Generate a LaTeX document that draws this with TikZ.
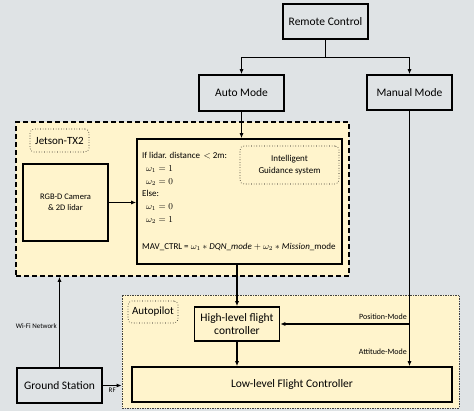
\documentclass[tikz,border=0pt]{standalone}
\usepackage{fontspec}
\setmainfont{Carlito}
\usetikzlibrary{arrows.meta}
\definecolor{bggray}{RGB}{223,227,229}
\definecolor{paleyel}{RGB}{255,244,204}
\tikzset{box/.style={draw, line width=1.6pt, inner sep=0pt, align=center, font=\fontsize{11.5}{13}\selectfont},
graybox/.style={box, fill=bggray},
yelbox/.style={box, fill=paleyel},
tag/.style={draw, dotted, line width=0.6pt, rounded corners=4pt, inner sep=0pt, align=center},
arr/.style={-{Latex[length=5pt,width=4pt]}, line width=1.3pt},
tiny/.style={font=\fontsize{7}{8}\selectfont, inner sep=2pt},
small/.style={font=\fontsize{8}{9}\selectfont, inner sep=2pt}}

\begin{document}
\begin{tikzpicture}[x=1pt,y=-1pt]
\fill[bggray] (0,0) rectangle (474,411); % background
% the two big frames
\node[draw, line width=1.6pt, dash pattern=on 5pt off 3pt, fill=paleyel, minimum width=333, minimum height=154] (jetson) at (182.5,199) {};
\node[draw=black!75, line width=0.7pt, dash pattern=on 1.5pt off 1pt, fill=paleyel, minimum width=337, minimum height=113] (autopilot) at (290.5,351.5) {};
\node[tag, minimum width=59, minimum height=23, font=\fontsize{11}{13}\selectfont] (jlabel) at (59.5,140.5) {Jetson-TX2};
\node[tag, minimum width=50, minimum height=22, font=\fontsize{11}{13}\selectfont] (alabel) at (153,312) {Autopilot};
% boxes
\node[graybox, minimum width=85, minimum height=35] (remote) at (325.5,21.5) {Remote Control};
\node[graybox, minimum width=85, minimum height=36] (auto) at (241.5,93) {Auto Mode};
\node[graybox, minimum width=85, minimum height=35] (manual) at (409.5,92.5) {Manual Mode};
\node[yelbox, minimum width=85, minimum height=77, font=\fontsize{8.5}{11}\selectfont] (camera) at (65.5,202.5) {RGB-D Camera\\\& 2D lidar};
\node[yelbox, minimum width=205, minimum height=125] (main) at (239.5,201.5) {};
\node[tag, minimum width=99, minimum height=38, font=\fontsize{9}{12}\selectfont] (igs) at (289.5,165) {Intelligent\\Guidance system};
\node[anchor=north west, inner sep=0pt, align=left, font=\fontsize{9}{12.8}\selectfont] (rule) at (142,152)
{If lidar. distance \,$<$ 2m:\\
\hspace*{4pt}$\omega_1 = 1$\\
\hspace*{4pt}$\omega_2 = 0$\\
Else:\\
\hspace*{4pt}$\omega_1 = 0$\\
\hspace*{4pt}$\omega_2 = 1$\\[14pt]
MAV\_CTRL = $\omega_1 * \mathit{DQN\_mode} + \omega_2 * \mathit{Mission}$\_mode};
\node[yelbox, minimum width=85, minimum height=34] (high) at (237,324) {High-level flight\\controller};
\node[yelbox, minimum width=320, minimum height=35] (low) at (292,384.5) {Low-level Flight Controller};
\node[graybox, minimum width=85, minimum height=35] (ground) at (59.5,385.5) {Ground Station};
% connectors
\draw[arr] (remote.south) -- ++(0,18) -| (auto.north);
\draw[arr] (remote.south) -- ++(0,18) -| (manual.north);
\draw[arr] (auto.south) -- (auto.south |- main.north);
\draw[arr] (camera.east) -- (camera.east -| main.west);
\draw[arr] (high.north |- main.south) -- (high.north);
\draw[arr] (high.south) -- (high.south |- low.north);
\draw[arr] (manual.south) -- (manual.south |- low.north) node[pos=0.945, left, small] {Attitude-Mode};
\draw[arr] (manual.south |- high.east) -- (high.east) node[pos=0, above left, small, yshift=2pt] {Position-Mode};
\draw[arr] (ground.north) -- (ground.north |- jetson.south) node[pos=0.45, left, tiny] {Wi-Fi Network};
\draw[arr] (ground.east) -- (ground.east -| autopilot.west) node[midway, below, tiny] {RF};
\end{tikzpicture}
\end{document}
